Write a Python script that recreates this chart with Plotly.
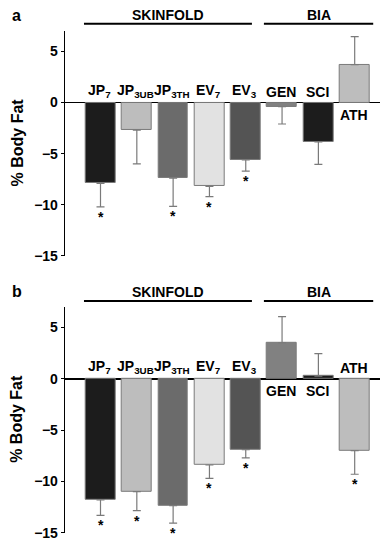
import plotly.graph_objects as go

# ---------------- data ----------------
categories = ["JP7", "JP3UB", "JP3TH", "EV7", "EV3", "GEN", "SCI", "ATH"]
cat_labels = ["JP<sub>7</sub>", "JP<sub>3UB</sub>", "JP<sub>3TH</sub>", "EV<sub>7</sub>",
              "EV<sub>3</sub>", "GEN", "SCI", "ATH"]
bar_colors = ["#1c1c1c", "#bdbdbd", "#6b6b6b", "#e2e2e2", "#545454", "#818181", "#1c1c1c", "#bdbdbd"]

a_values = [-7.9, -2.7, -7.4, -8.2, -5.6, -0.4, -3.85, 3.7]
a_errors = [2.3, 3.3, 2.75, 1.0, 1.1, 1.7, 2.2, 2.75]
a_signif = [True, False, True, True, True, False, False, False]

b_values = [-11.8, -11.0, -12.35, -8.4, -6.9, 3.5, 0.25, -7.0]
b_errors = [1.5, 1.85, 1.7, 1.3, 0.8, 2.55, 2.2, 2.3]
b_signif = [True, True, True, True, True, False, False, True]

groups = [("SKINFOLD", 0, 4), ("BIA", 5, 7)]
y_ticks = [-15, -10, -5, 0, 5]

# ---------------- layout constants ----------------
W, H = 388, 539
FONT = "Liberation Sans, Arial, sans-serif"


def py(px):
    return 1 - px / H


def px_x(px):
    return px / W


panels = [
    dict(name="a", values=a_values, errors=a_errors, signif=a_signif,
         top=23.3, bottom=251.7, grp_line=16.0, grp_text=6.7, letter=7.5, zero_w=1),
    dict(name="b", values=b_values, errors=b_errors, signif=b_signif,
         top=303.3, bottom=532.7, grp_line=297.3, grp_text=288.3, letter=288, zero_w=2),
]

x_domain = [px_x(56.7), px_x(383)]
x_range = [-0.986, 8.0]
y_range = [-15, 7]

fig = go.Figure()
annotations = []
shapes = []
layout = dict(width=W, height=H, margin=dict(l=0, r=0, t=0, b=0),
              plot_bgcolor="white", paper_bgcolor="white", showlegend=False,
              font=dict(family=FONT, color="black"), bargap=0)

for i, p in enumerate(panels):
    sfx = "" if i == 0 else str(i + 1)
    xa, ya = "x" + sfx, "y" + sfx
    xs = list(range(len(categories)))
    vals, errs = p["values"], p["errors"]
    up = [e if v >= 0 else 0 for v, e in zip(vals, errs)]
    down = [e if v < 0 else 0 for v, e in zip(vals, errs)]
    fig.add_trace(go.Bar(
        x=xs, y=vals, width=0.82, xaxis=xa, yaxis=ya,
        marker=dict(color=bar_colors, line=dict(color="#7a7a7a", width=1)),
        error_y=dict(type="data", symmetric=False, array=up, arrayminus=down,
                     color="#7a7a7a", thickness=1.2, width=4),
        hoverinfo="skip"))

    layout["xaxis" + sfx] = dict(domain=x_domain, range=x_range, anchor=ya,
                                 showticklabels=False, showgrid=False, zeroline=False,
                                 showline=False, ticks="", fixedrange=True)
    layout["yaxis" + sfx] = dict(domain=[py(p["bottom"]), py(p["top"])], range=y_range,
                                 anchor=xa, tickvals=y_ticks, ticks="outside", ticklen=3,
                                 tickwidth=1, tickcolor="black", showline=True,
                                 linecolor="black", linewidth=1, showgrid=False,
                                 zeroline=True, zerolinecolor="black",
                                 zerolinewidth=p["zero_w"],
                                 tickfont=dict(family=FONT, size=14, color="black",
                                               weight="bold"),
                                 fixedrange=True)

    # category labels
    for x, v, lab in zip(xs, vals, cat_labels):
        if v < 0:
            annotations.append(dict(x=x, y=0, xref=xa, yref=ya, text="<b>" + lab + "</b>",
                                    showarrow=False, yanchor="bottom", yshift=1, xshift=-1,
                                    font=dict(size=14, family=FONT, color="black")))
        else:
            annotations.append(dict(x=x, y=0, xref=xa, yref=ya, text="<b>" + lab + "</b>",
                                    showarrow=False, yanchor="top", yshift=-2, xshift=-1,
                                    font=dict(size=14, family=FONT, color="black")))

    # significance asterisks
    for x, v, e, s in zip(xs, vals, errs, p["signif"]):
        if s:
            annotations.append(dict(x=x, y=v - e, xref=xa, yref=ya, text="<b>*</b>",
                                    showarrow=False, yanchor="top", yshift=0,
                                    font=dict(size=14, family=FONT, color="black")))

    # group headers
    pads = {"SKINFOLD": (-0.455, 0.17), "BIA": (-0.5, 0.51)}
    for gname, g0, g1 in groups:
        x0 = g0 + pads[gname][0]
        x1 = g1 + pads[gname][1]
        shapes.append(dict(type="line", xref=xa, yref="paper", x0=x0, x1=x1,
                           y0=py(p["grp_line"]), y1=py(p["grp_line"]),
                           line=dict(color="black", width=2)))
        annotations.append(dict(x=(x0 + x1) / 2, y=py(p["grp_text"]), xref=xa, yref="paper",
                                text="<b>" + gname + "</b>", showarrow=False,
                                yanchor="middle", font=dict(size=14, family=FONT, color="black")))

    # panel letter
    annotations.append(dict(x=px_x(2), y=py(p["letter"]), xref="paper", yref="paper",
                            text="<b>" + p["name"] + "</b>", showarrow=False,
                            xanchor="left", yanchor="middle",
                            font=dict(size=16, family=FONT, color="black")))
    # y title
    annotations.append(dict(x=px_x(9), y=py((p["top"] + p["bottom"]) / 2 - 1), xref="paper",
                            yref="paper", text="<b>% Body Fat</b>", textangle=-90,
                            showarrow=False, xanchor="center", yanchor="middle",
                            font=dict(size=16, family=FONT, color="black")))

layout["annotations"] = annotations
layout["shapes"] = shapes
fig.update_layout(**layout)
fig.write_html("out.html")
